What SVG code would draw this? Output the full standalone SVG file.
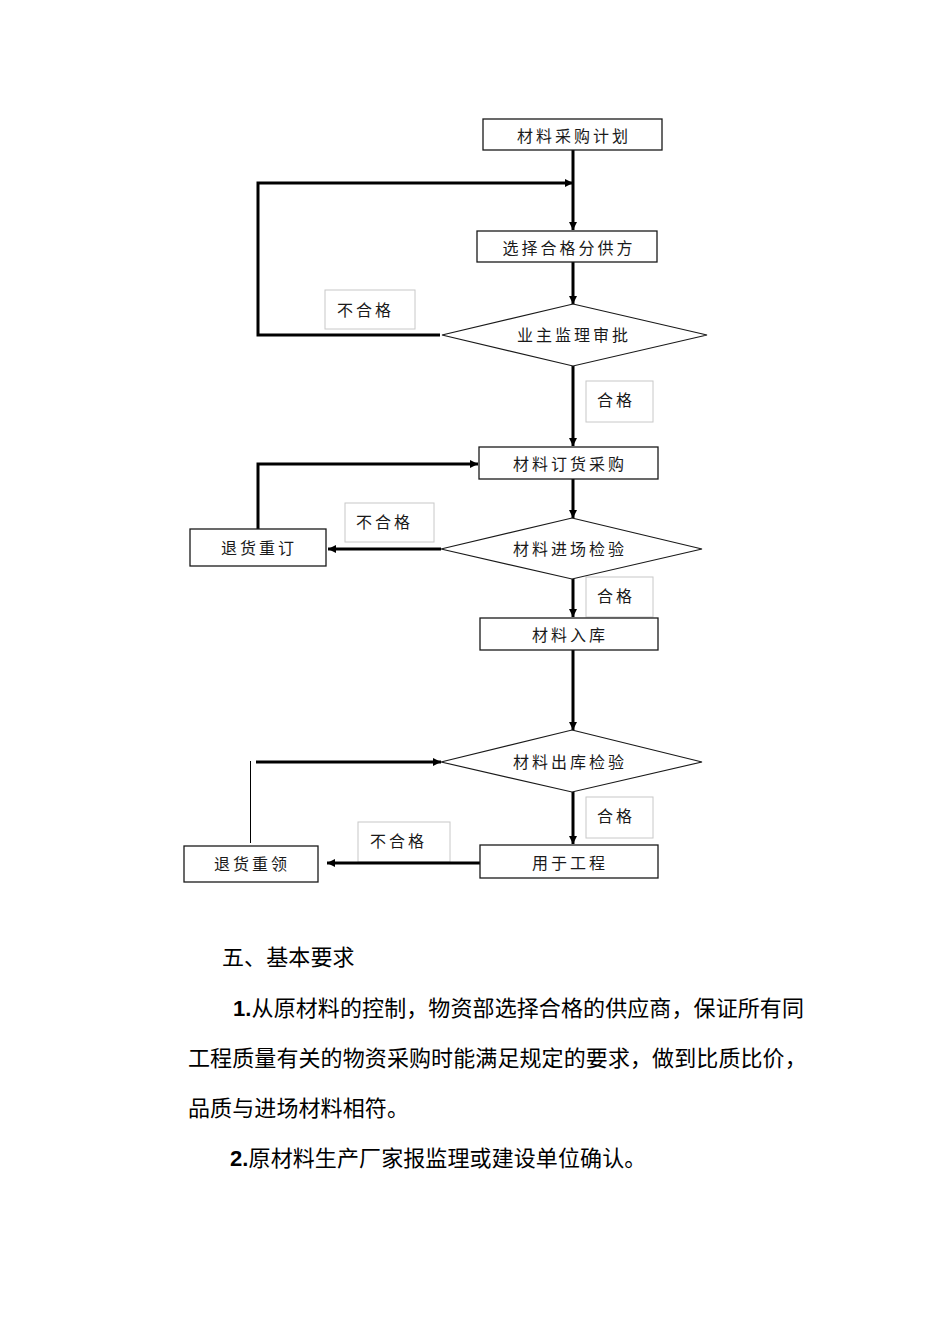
<svg xmlns="http://www.w3.org/2000/svg" width="950" height="1344" viewBox="0 0 950 1344">
<style>
.box{fill:#fff;stroke:#1a1a1a;stroke-width:1.3}
.dia{fill:#fff;stroke:#1a1a1a;stroke-width:1.2}
.lbl{fill:#fff;stroke:#c8c8c8;stroke-width:1}
.t{font-family:"Noto Sans CJK SC","Liberation Sans",sans-serif;font-size:16px;fill:#1a1a1a;letter-spacing:3px}
.tl{font-family:"Noto Sans CJK SC","Liberation Sans",sans-serif;font-size:16px;fill:#1a1a1a;letter-spacing:3px}
.ln{fill:none;stroke:#000;stroke-width:3}
.thin{fill:none;stroke:#000;stroke-width:1}
.p{font-family:"Noto Sans CJK SC","Liberation Serif",serif;font-size:22px;fill:#000;letter-spacing:0.1px}
.b{font-family:"Liberation Sans",sans-serif;font-weight:bold}
</style>
<defs>
<marker id="ah" viewBox="0 0 10 10" refX="10" refY="5" markerWidth="10" markerHeight="8" markerUnits="userSpaceOnUse" orient="auto">
<path d="M0,0 L10,5 L0,10 z" fill="#000"/>
</marker>
</defs>
<rect width="950" height="1344" fill="#fff"/>

<g id="labels">
<g id="lbl-buhege1"><rect class="lbl" x="325" y="290" width="90" height="39"/><text class="tl" x="337" y="316">不合格</text></g>
<g id="lbl-hege1"><rect class="lbl" x="586" y="381" width="67" height="41"/><text class="tl" x="597" y="406">合格</text></g>
<g id="lbl-buhege2"><rect class="lbl" x="345" y="503" width="89" height="39"/><text class="tl" x="356" y="528">不合格</text></g>
<g id="lbl-hege2"><rect class="lbl" x="586" y="577" width="67" height="40"/><text class="tl" x="597" y="602">合格</text></g>
<g id="lbl-hege3"><rect class="lbl" x="586" y="797" width="67" height="41"/><text class="tl" x="597" y="822">合格</text></g>
<g id="lbl-buhege3"><rect class="lbl" x="358" y="822" width="92" height="40"/><text class="tl" x="370" y="847">不合格</text></g>
</g>

<g id="connectors">
<line class="ln" x1="573" y1="150" x2="573" y2="230" marker-end="url(#ah)"/>
<polyline class="ln" points="440,335 258,335 258,183 573,183" marker-end="url(#ah)"/>
<line class="ln" x1="573" y1="262" x2="573" y2="304" marker-end="url(#ah)"/>
<line class="ln" x1="573" y1="366" x2="573" y2="446" marker-end="url(#ah)"/>
<polyline class="ln" points="258,529 258,464 478,464" marker-end="url(#ah)"/>
<line class="ln" x1="573" y1="479" x2="573" y2="518" marker-end="url(#ah)"/>
<line class="ln" x1="441" y1="549" x2="328" y2="549" marker-end="url(#ah)"/>
<line class="ln" x1="573" y1="579" x2="573" y2="617" marker-end="url(#ah)"/>
<line class="ln" x1="573" y1="650" x2="573" y2="730" marker-end="url(#ah)"/>
<line class="ln" x1="256" y1="762" x2="441" y2="762" marker-end="url(#ah)"/>
<line class="thin" x1="250.5" y1="761" x2="250.5" y2="843"/>
<line class="ln" x1="573" y1="792" x2="573" y2="844" marker-end="url(#ah)"/>
<line class="ln" x1="480" y1="863" x2="327" y2="863" marker-end="url(#ah)"/>
</g>

<g id="n1"><rect class="box" x="483" y="119" width="179" height="31"/><text class="t" x="574" y="142" text-anchor="middle">材料采购计划</text></g>
<g id="n2"><rect class="box" x="477" y="231" width="180" height="31"/><text class="t" x="569" y="254" text-anchor="middle">选择合格分供方</text></g>
<g id="n3"><polygon class="dia" points="573,304 707,335 573,366 442,335"/><text class="t" x="574" y="341" text-anchor="middle">业主监理审批</text></g>
<g id="n4"><rect class="box" x="479" y="447" width="179" height="32"/><text class="t" x="570" y="470" text-anchor="middle">材料订货采购</text></g>
<g id="n5"><rect class="box" x="190" y="529" width="136" height="37"/><text class="t" x="259" y="554" text-anchor="middle">退货重订</text></g>
<g id="n6"><polygon class="dia" points="572,518 702,549 572,579 441,549"/><text class="t" x="570" y="555" text-anchor="middle">材料进场检验</text></g>
<g id="n7"><rect class="box" x="480" y="618" width="178" height="32"/><text class="t" x="570" y="641" text-anchor="middle">材料入库</text></g>
<g id="n8"><polygon class="dia" points="572,730 702,762 572,792 441,762"/><text class="t" x="570" y="768" text-anchor="middle">材料出库检验</text></g>
<g id="n9"><rect class="box" x="480" y="845" width="178" height="33"/><text class="t" x="570" y="869" text-anchor="middle">用于工程</text></g>
<g id="n10"><rect class="box" x="184" y="846" width="134" height="36"/><text class="t" x="252" y="870" text-anchor="middle">退货重领</text></g>

<g id="text">
<text class="p" x="222" y="965">五、基本要求</text>
<text class="p" x="233" y="1016"><tspan class="b">1.</tspan>从原材料的控制，物资部选择合格的供应商，保证所有同</text>
<text class="p" x="188" y="1066">工程质量有关的物资采购时能满足规定的要求，做到比质比价，</text>
<text class="p" x="188" y="1116">品质与进场材料相符。</text>
<text class="p" x="230" y="1166"><tspan class="b">2.</tspan>原材料生产厂家报监理或建设单位确认。</text>
</g>
</svg>
